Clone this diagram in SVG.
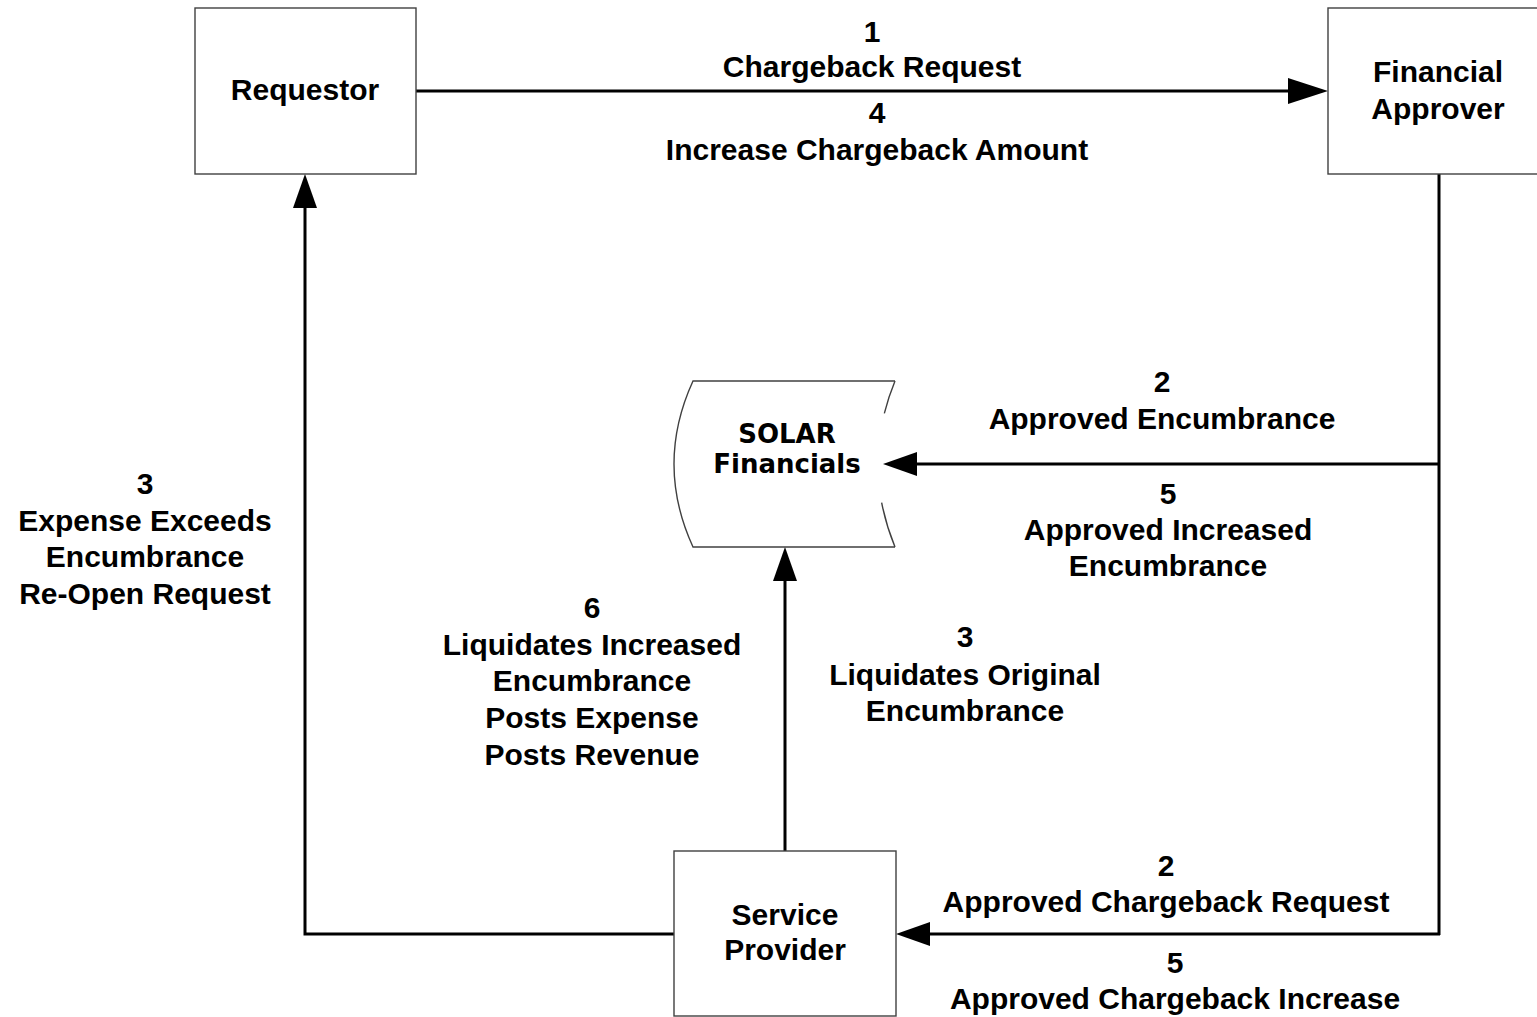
<svg xmlns="http://www.w3.org/2000/svg" width="1537" height="1017" viewBox="0 0 1537 1017">
<style>
.box{fill:#fff;stroke:#404040;stroke-width:1.4}
.t{font-family:"Liberation Sans",Arial,sans-serif;font-weight:bold;font-size:30px;fill:#000;text-anchor:middle}
.tv{font-family:"DejaVu Sans",Verdana,sans-serif;font-weight:bold;font-size:26px;fill:#000;text-anchor:middle}
.c{fill:none;stroke:#000;stroke-width:3}
</style>
<defs>
<marker id="ah" markerUnits="userSpaceOnUse" viewBox="0 0 34 24" markerWidth="34" markerHeight="24" refX="26" refY="12" orient="auto"><path d="M0,0 L34,12 L0,24 Z" fill="#000"/></marker>
<marker id="ahL" markerUnits="userSpaceOnUse" viewBox="0 0 40 26" markerWidth="40" markerHeight="26" refX="32" refY="13" orient="auto"><path d="M0,0 L40,13 L0,26 Z" fill="#000"/></marker>
</defs>
<rect width="1537" height="1017" fill="#fff"/>
<g id="connectors">
<line class="c" x1="416" y1="91" x2="1320" y2="91" marker-end="url(#ahL)"/>
<line class="c" x1="1439" y1="174" x2="1439" y2="935"/>
<line class="c" x1="1440" y1="464" x2="891" y2="464" marker-end="url(#ah)"/>
<line class="c" x1="1440" y1="934" x2="904" y2="934" marker-end="url(#ah)"/>
<line class="c" x1="785" y1="851" x2="785" y2="555" marker-end="url(#ah)"/>
<polyline class="c" points="674,934 305,934 305,182" marker-end="url(#ah)"/>
</g>
<g id="labels">
<text class="t" x="872" y="42">1</text>
<text class="t" x="872" y="77">Chargeback Request</text>
<text class="t" x="877" y="123">4</text>
<text class="t" x="877" y="160">Increase Chargeback Amount</text>
<text class="t" x="1162" y="392">2</text>
<text class="t" x="1162" y="429">Approved Encumbrance</text>
<text class="t" x="1168" y="504">5</text>
<text class="t" x="1168" y="540">Approved Increased</text>
<text class="t" x="1168" y="576">Encumbrance</text>
<text class="t" x="145" y="494">3</text>
<text class="t" x="145" y="531">Expense Exceeds</text>
<text class="t" x="145" y="567">Encumbrance</text>
<text class="t" x="145" y="604">Re-Open Request</text>
<text class="t" x="592" y="618">6</text>
<text class="t" x="592" y="655">Liquidates Increased</text>
<text class="t" x="592" y="691">Encumbrance</text>
<text class="t" x="592" y="728">Posts Expense</text>
<text class="t" x="592" y="765">Posts Revenue</text>
<text class="t" x="965" y="647">3</text>
<text class="t" x="965" y="685">Liquidates Original</text>
<text class="t" x="965" y="721">Encumbrance</text>
<text class="t" x="1166" y="876">2</text>
<text class="t" x="1166" y="912">Approved Chargeback Request</text>
<text class="t" x="1175" y="973">5</text>
<text class="t" x="1175" y="1009">Approved Chargeback Increase</text>
</g>
<g id="requestor">
<rect class="box" x="195" y="8" width="221" height="166"/>
<text class="t" x="305" y="100">Requestor</text>
</g>
<g id="financial-approver">
<rect class="box" x="1328" y="8" width="220" height="166"/>
<text class="t" x="1438" y="82">Financial</text>
<text class="t" x="1438" y="119">Approver</text>
</g>
<g id="solar-financials">
<path d="M693,381 L895,381 Q861,464 895,547 L693,547 Q655,464 693,381 Z" fill="#fff" stroke="none"/>
<path d="M895,381 L693,381 Q655,464 693,547 L895,547" fill="none" stroke="#404040" stroke-width="1.4"/>
<path d="M895,381 Q861,464 895,547" fill="none" stroke="#404040" stroke-width="1.4" stroke-dasharray="34 90 70"/>
<text class="tv" x="787" y="443">SOLAR</text>
<text class="tv" x="787" y="473">Financials</text>
</g>
<g id="service-provider">
<rect class="box" x="674" y="851" width="222" height="165"/>
<text class="t" x="785" y="925">Service</text>
<text class="t" x="785" y="960">Provider</text>
</g>
</svg>
